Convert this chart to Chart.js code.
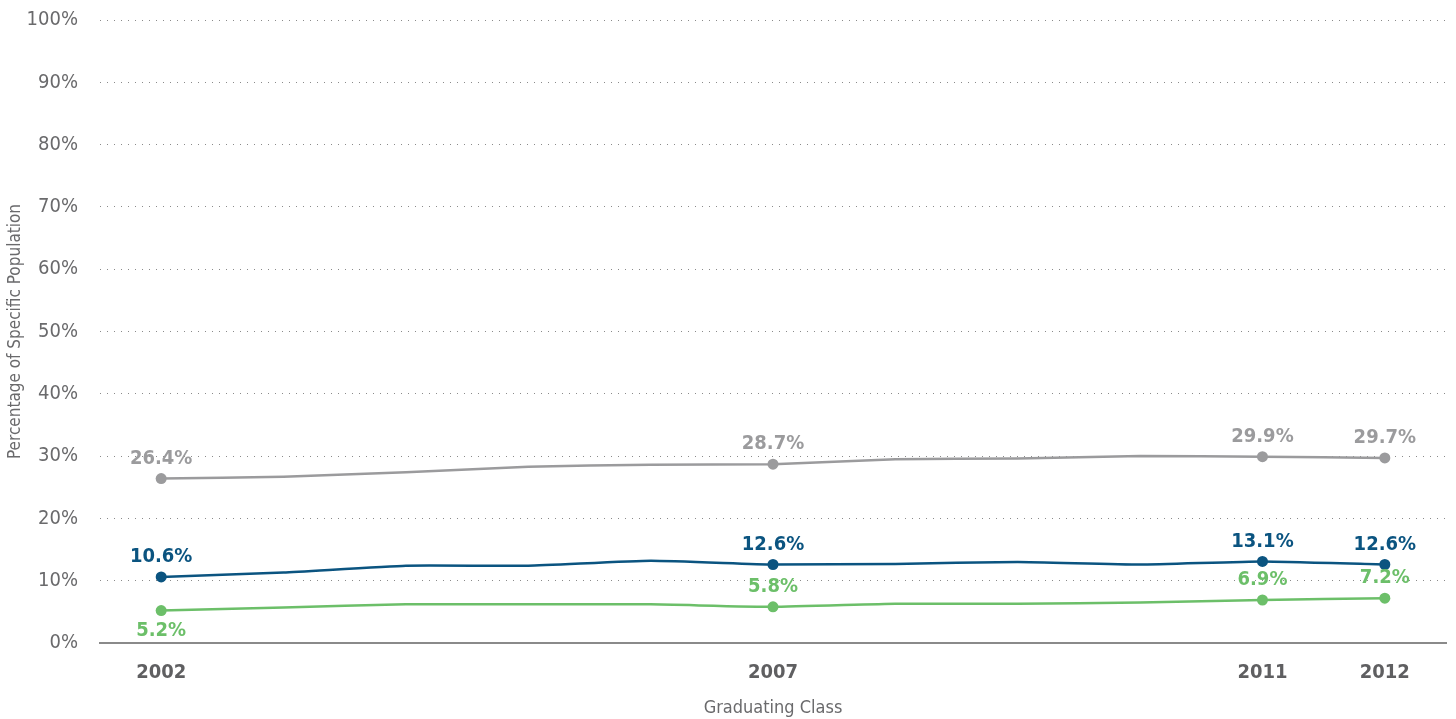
<!DOCTYPE html>
<html>
<head>
<meta charset="utf-8">
<script src="https://cdn.jsdelivr.net/npm/chart.js@4.4.1/dist/chart.umd.min.js"></script>
<style>
  html, body { margin: 0; padding: 0; background: #fff; }
  #wrap { width: 1456px; height: 719px; }
</style>
</head>
<body>
<div id="wrap"><canvas id="gradChart" width="1456" height="719"></canvas></div>
<script>
const FONT = "'DejaVu Sans Condensed', 'Liberation Sans Narrow', sans-serif";

// graduating classes
const years = [2002, 2003, 2004, 2005, 2006, 2007, 2008, 2009, 2010, 2011, 2012];
const labeledYears = [2002, 2007, 2011, 2012];

// series values (percent)
const grayValues  = [26.4, 26.7, 27.4, 28.3, 28.6, 28.7, 29.5, 29.6, 30.0, 29.9, 29.7];
const blueValues  = [10.6, 11.3, 12.4, 12.4, 13.2, 12.6, 12.7, 13.0, 12.6, 13.1, 12.6];
const greenValues = [5.2, 5.7, 6.2, 6.2, 6.2, 5.8, 6.3, 6.3, 6.5, 6.9, 7.2];

// printed labels at the marked years
const grayLabels  = ["26.4%", "28.7%", "29.9%", "29.7%"];
const blueLabels  = ["10.6%", "12.6%", "13.1%", "12.6%"];
const greenLabels = ["5.2%", "5.8%", "6.9%", "7.2%"];

const yTicks = [0, 10, 20, 30, 40, 50, 60, 70, 80, 90, 100];

function makeSeries(label, values, labels, color, below) {
    return {
        label: label,
        data: years.map((y, i) => ({ x: y, y: values[i] })),
        borderColor: color,
        backgroundColor: color,
        borderWidth: 2.5,
        tension: 0.15,
        pointRadius: years.map(y => labeledYears.includes(y) ? 5.5 : 0),
        pointHoverRadius: 0,
        pointBorderWidth: 0,
        valueLabels: labels,
        labelsBelow: below || []
    };
}

const valueLabelPlugin = {
    id: "valueLabels",
    afterDatasetsDraw(chart) {
        const ctx = chart.ctx;
        ctx.save();
        ctx.font = "bold 20px " + FONT;
        ctx.textAlign = "center";
        ctx.textBaseline = "middle";
        chart.data.datasets.forEach((ds, di) => {
            const meta = chart.getDatasetMeta(di);
            labeledYears.forEach((yr, li) => {
                const idx = years.indexOf(yr);
                const pt = meta.data[idx];
                const below = ds.labelsBelow.includes(yr);
                ctx.fillStyle = ds.borderColor;
                ctx.fillText(ds.valueLabels[li], pt.x, pt.y + (below ? 20 : -20));
            });
        });
        ctx.restore();
    }
};

const ctx = document.getElementById("gradChart").getContext("2d");

new Chart(ctx, {
    type: "line",
    data: {
        datasets: [
            makeSeries("Group A", grayValues, grayLabels, "#9b9b9d"),
            makeSeries("Group B", blueValues, blueLabels, "#0b5480"),
            makeSeries("Group C", greenValues, greenLabels, "#6cbf69", [2002])
        ]
    },
    options: {
        responsive: false,
        animation: false,
        layout: { padding: { top: 20, right: 10, left: 0, bottom: 0 } },
        plugins: {
            legend: { display: false },
            tooltip: { enabled: false }
        },
        scales: {
            x: {
                type: "linear",
                min: 2001.5,
                max: 2012.5,
                afterBuildTicks: axis => {
                    axis.ticks = labeledYears.map(v => ({ value: v }));
                },
                afterFit: axis => { axis.height = 76; },
                ticks: {
                    callback: v => String(v),
                    color: "#5f5f61",
                    font: { family: FONT, size: 20, weight: "bold" },
                    padding: 18,
                    maxRotation: 0,
                    autoSkip: false
                },
                grid: { display: false, drawTicks: false },
                border: { display: true, color: "#8a8a8a", width: 2 },
                title: {
                    display: true,
                    text: "Graduating Class",
                    color: "#6a6a6c",
                    font: { family: FONT, size: 18 },
                    padding: { top: 10, bottom: 0 }
                }
            },
            y: {
                min: 0,
                max: 100,
                afterBuildTicks: axis => {
                    axis.ticks = yTicks.map(v => ({ value: v }));
                },
                afterFit: axis => {
                    axis.width = 100;
                    axis.paddingTop = 0;
                    axis.paddingBottom = 0;
                },
                ticks: {
                    callback: v => v + "%",
                    color: "#6a6a6c",
                    font: { family: FONT, size: 20 },
                    padding: 22
                },
                grid: {
                    color: "#8a8a8a",
                    lineWidth: 1,
                    drawTicks: false
                },
                border: { display: false, dash: [1, 6] },
                title: {
                    display: true,
                    text: "Percentage of Specific Population",
                    color: "#6a6a6c",
                    font: { family: FONT, size: 17 },
                    padding: { top: 5, bottom: 6 }
                }
            }
        }
    },
    plugins: [valueLabelPlugin]
});
</script>
</body>
</html>
